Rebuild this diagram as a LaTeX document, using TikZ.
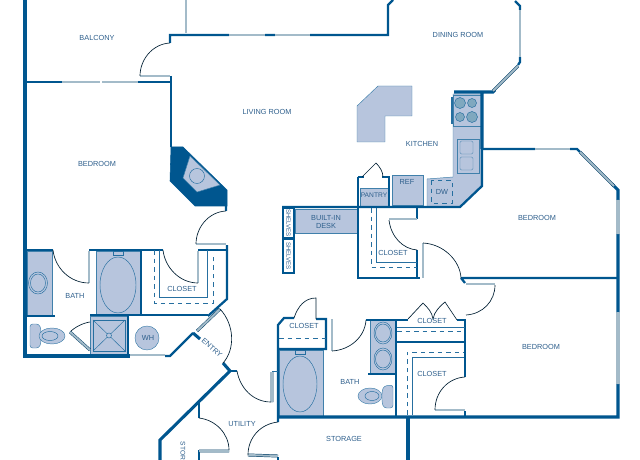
\documentclass[tikz,border=0pt]{standalone}
\usepackage{fontspec}
\setmainfont{Liberation Sans}
\definecolor{wallblue}{HTML}{00568F}
\definecolor{fixture}{HTML}{B7C5DD}
\definecolor{glass}{HTML}{A3BBC9}
\definecolor{burner}{HTML}{7FA8BF}
\definecolor{labelblue}{HTML}{2E5F8C}
\tikzstyle{wall} = [draw=wallblue, line width=1.7pt, line join=miter]
\tikzstyle{thickwall} = [draw=wallblue, line width=2.3pt]
\tikzstyle{fix} = [draw=wallblue!75, line width=0.35pt, fill=fixture]
\tikzstyle{thin} = [draw=wallblue!85, line width=0.35pt]
\tikzstyle{swing} = [draw=black!65!wallblue, line width=0.5pt]
\tikzstyle{window} = [draw=black!30!wallblue, line width=0.35pt, double=glass, double distance=1.5pt]
\tikzstyle{dashline} = [draw=wallblue!85, line width=0.5pt, dash pattern=on 3.4pt off 3pt]
\tikzstyle{room} = [font=\fontsize{5.5}{6}\selectfont, text=labelblue, inner sep=0pt, align=center]
\begin{document}
\begin{tikzpicture}[x=0.75pt,y=-0.75pt]
  \useasboundingbox (0,0) rectangle (640,460);
  %fixtures
  \fill[draw=wallblue, fill=wallblue] (171,147) -- (183,147) -- (227,190) -- (227,206) -- (195,206) -- (170,181) -- cycle;
  \path[fix] (190,156) -- (220,185) -- (197,192) -- (183,178) -- cycle;
  \path[thin] (197,176) circle (7.5);
  \path[fix] (357,106) -- (378,86) -- (412,86) -- (412,116) -- (385,116) -- (385,142) -- (357,142) -- cycle;
  \path[fix] (427,179) -- (453,177) -- (453,94) -- (481,94) -- (481,186) -- (460,207) -- (427,207) -- cycle;
  \path[fix] (453,95) rectangle (481,126);
  \path[thin] (451,97) rectangle (452.5,123);
  \foreach \px/\py/\pr in {460/103/5.5, 472/103/4.5, 460/117/4.5, 472/117/5.5}
    \path[thin, fill=burner] (\px,\py) circle (\pr);
  \path[fix] (457,139) rectangle (479,173);
  \path[fix, rounded corners=1pt] (460,141) rectangle (473,154);
  \path[fix, rounded corners=1pt] (460,157) rectangle (473,170);
  \path[fix] (392,175) rectangle (423,205);
  \path[fix] (360,188) rectangle (388,207);
  \path[fix] (295,209) rectangle (358,233);
  \path[dashline] (431,180) rectangle (452,203);
  %bath fixtures, left
  \path[fix] (27,251) rectangle (52,316);
  \path[thin] (38,283) ellipse (9.5 and 11);
  \path[thin] (38,283) ellipse (7.5 and 9);
  \path[fix] (96,251) rectangle (141,314);
  \path[thin] (118,285) ellipse (18 and 28);
  \path[thin] (113,251) rectangle (123,255);
  \path[fix] (90,316) rectangle (128,354);
  \path[thin] (93,320) rectangle (125,351);
  \path[thin] (93,320) -- (125,351) (125,320) -- (93,351);
  \path[thin, fill=fixture] (109,335.5) circle (2.5);
  \path[fix] (147,338) circle (12);
  \path[fix, rounded corners=2pt] (30,324) -- (39,324) -- (41,329) -- (41,343) -- (39,348) -- (30,348) -- cycle;
  \path[fix] (52,336) ellipse (13 and 8);
  \path[thin] (50,336) ellipse (8 and 4.5);
  %bath fixtures, right
  \path[fix] (279,350) rectangle (323,417);
  \path[thin] (300,384) ellipse (17 and 28);
  \path[thin] (295,350) rectangle (305,354);
  \path[fix] (370,320) rectangle (395,374);
  \path[thin] (383,333) ellipse (9 and 11);
  \path[thin] (383,333) ellipse (7.5 and 9);
  \path[thin] (383,359) ellipse (9 and 11);
  \path[thin] (383,359) ellipse (7.5 and 9);
  \path[fix] (370,396) ellipse (12 and 8);
  \path[thin] (372,396) ellipse (7 and 4.5);
  \path[fix, rounded corners=2pt] (393,385) -- (384,386) -- (382,391) -- (382,403) -- (384,408) -- (393,408) -- cycle;
  %outer and inner walls
  \path[thickwall] (25,0) -- (25,356) -- (130,356);
  \path[wall] (25,82) -- (62,82) (138,82) -- (171,82);
  \path[wall] (171,76) -- (171,147);
  \path[wall] (170,43) -- (170,35) -- (229,35) (265,35) -- (275,35) (310,35) -- (388,35) -- (388,5) -- (393,0);
  \path[wall] (226,206) -- (226,211) (227,245) -- (227,299) -- (208,316) (193,333) -- (170,356) -- (165,356);
  \path[thickwall] (193,333) -- (200,339) (223,363) -- (230,371);
  \path[thickwall] (230,371) -- (160,440) -- (160,460);
  \path[wall] (230,371) -- (237,371);
  \path[wall] (25,250) -- (53,250) (89,250) -- (163,250) (198,250) -- (227,250);
  \path[wall] (141,250) -- (141,315) (25,316) -- (55,316) (90,315) -- (208,315);
  \path[wall] (128,315) -- (128,356);
  \path[wall] (278,422) -- (278,325) -- (284,318) -- (294,318) (316,319) -- (326,319) -- (326,349) -- (278,349);
  \path[wall] (278,457) -- (278,460) (199,403) -- (199,418) (199,450) -- (199,460);
  \path[thickwall] (278,417) -- (618,417) -- (618,384) (618,312) -- (618,234) (618,200) -- (618,190) -- (612,184);
  \path[wall] (366,320) -- (396,320) -- (396,417) (368,374) -- (396,374) (396,320) -- (408,320) (457,320) -- (465,320) -- (465,377);
  \path[wall] (396,342) -- (465,342) (465,411) -- (465,417);
  \path[thickwall] (408,417) -- (408,460);
  \path[wall] (461,278) -- (618,278) (461,278) -- (465,283);
  \path[wall] (282,207) -- (460,207) -- (482,186) -- (482,149);
  %shelves
  \path[draw=wallblue, line width=1pt] (283,208) rectangle (294,238);
  \path[draw=wallblue, line width=1.4pt] (283,239) rectangle (294,273);
  \path[wall] (358,177) -- (358,278) -- (420,278) (417,278) -- (417,250) (417,207) -- (417,219);
  \path[wall] (358,177) -- (364,177) (382,177) -- (389,177) -- (389,207);
  \path[thickwall] (482,149) -- (482,92) (454,92) -- (493,92) -- (495,90);
  \path[wall] (482,149) -- (535,149) (570,149) -- (577,149) -- (580,152);
  \path[wall] (518,65) -- (520,62) -- (520,57) (520,10) -- (520,6) -- (515,1);
  %windows and door leaves
  \path[draw=glass, line width=1.5pt] (186,0) -- (186,33);
  \path[window] (62,82) -- (100,82) (102,82) -- (138,82) (229,35) -- (265,35) (275,35) -- (310,35);
  \path[window] (130,355) -- (165,355) (535,149) -- (570,149) (520,57) -- (520,10);
  \path[window] (493,91) -- (518,66) (580,152) -- (614,186) (618,200) -- (618,234) (618,312) -- (618,384);
  \path[window] (140,76) -- (170,76) (196,244) -- (226,244) (89,251) -- (89,283) (198,251) -- (198,283);
  \path[window] (197,331) -- (220,309) (272,372) -- (272,402) (199,451) -- (229,451) (248,455) -- (278,456);
  \path[window] (332,319) -- (332,351) (423,243) -- (423,278) (466,284) -- (495,284) (435,410) -- (465,410);
  \path[window] (417,219) -- (389,219);
  \path[thin] (272,371) -- (278,371);
  %door swings
  \path[swing] (170,43) .. controls (152,44) and (140,60) .. (140,76);
  \path[swing] (226,211) .. controls (208,212) and (196,228) .. (196,244);
  \path[swing] (53,250) .. controls (55,268) and (70,283) .. (89,283);
  \path[swing] (163,250) .. controls (165,268) and (180,283) .. (198,283);
  \path[swing] (220,309) .. controls (235,325) and (235,350) .. (223,363);
  \path[swing] (237,371) .. controls (240,388) and (253,402) .. (271,402);
  \path[swing] (199,418) .. controls (216,420) and (229,434) .. (229,450);
  \path[swing] (278,422) .. controls (260,424) and (248,438) .. (248,455);
  \path[swing] (294,318) .. controls (298,306) and (305,298) .. (316,298) -- (316,319);
  \path[swing] (332,351) .. controls (350,350) and (365,337) .. (366,320);
  \path[swing] (389,220) .. controls (391,237) and (403,249) .. (417,250);
  \path[swing] (423,243) .. controls (443,244) and (460,260) .. (461,278);
  \path[swing] (466,315) .. controls (483,314) and (495,301) .. (495,285);
  \path[swing] (465,377) .. controls (448,378) and (435,392) .. (435,410);
  \path[swing] (70,332) .. controls (75,327) and (83,323) .. (90,322);
  \path[swing] (408,319) -- (423,303) .. controls (428,308) and (432,312) .. (433,319) .. controls (434,312) and (440,306) .. (445,302) -- (457,320);
  \path[swing] (362,177) -- (376,163) .. controls (380,167) and (383,172) .. (383,177);
  \path[window] (70,332) -- (90,350);
  %closet rails
  \path[dashline] (154,250) -- (154,303) -- (213,303) -- (213,257);
  \path[thin] (159,250) -- (159,297) -- (207,297) -- (207,250);
  \path[dashline] (371,208) -- (371,267) -- (417,267);
  \path[thin] (376,208) -- (376,262) -- (417,262);
  \path[dashline] (279,338) -- (326,338);
  \path[dashline] (397,331) -- (465,331);
  \path[thin] (397,327) -- (465,327);
  \path[dashline] (407,415) -- (407,352) -- (464,352);
  \path[thin] (412,415) -- (412,357) -- (464,357);
  %labels
  \node (balcony) [room] at (97,38) {BALCONY};
  \node (living) [room] at (267,112) {LIVING ROOM};
  \node (bedroomA) [room] at (97,164) {BEDROOM};
  \node (dining) [room] at (458,35) {DINING ROOM};
  \node (kitchen) [room] at (422,144) {KITCHEN};
  \node (bedroomB) [room] at (537,218) {BEDROOM};
  \node (bedroomC) [room] at (541,347) {BEDROOM};
  \node (pantry) [room, font=\fontsize{5}{5.5}\selectfont] at (374,195) {PANTRY};
  \node (ref) [room] at (407,182) {REF};
  \node (dw) [room] at (442,192) {DW};
  \node (desk) [room] at (326,222) {BUILT-IN\\DESK};
  \node (shelfA) [room, rotate=-90, font=\fontsize{4.6}{5}\selectfont] at (288.5,223) {SHELVES};
  \node (shelfB) [room, rotate=-90, font=\fontsize{4.6}{5}\selectfont] at (288.5,256) {SHELVES};
  \node (closetA) [room] at (393,253) {CLOSET};
  \node (closetB) [room] at (182,289) {CLOSET};
  \node (closetC) [room] at (304,326) {CLOSET};
  \node (closetD) [room] at (432,321) {CLOSET};
  \node (closetE) [room] at (432,374) {CLOSET};
  \node (bathA) [room] at (75,296) {BATH};
  \node (bathB) [room] at (350,382) {BATH};
  \node (wh) [room] at (148,338) {WH};
  \node (entry) [room, rotate=-42] at (212,348) {ENTRY};
  \node (utility) [room] at (242,424) {UTILITY};
  \node (storage) [room] at (344,439) {STORAGE};
  \node (stor) [room, rotate=-90, anchor=west, font=\fontsize{5}{5.5}\selectfont] at (183,441.5) {STOR};
\end{tikzpicture}
\end{document}
